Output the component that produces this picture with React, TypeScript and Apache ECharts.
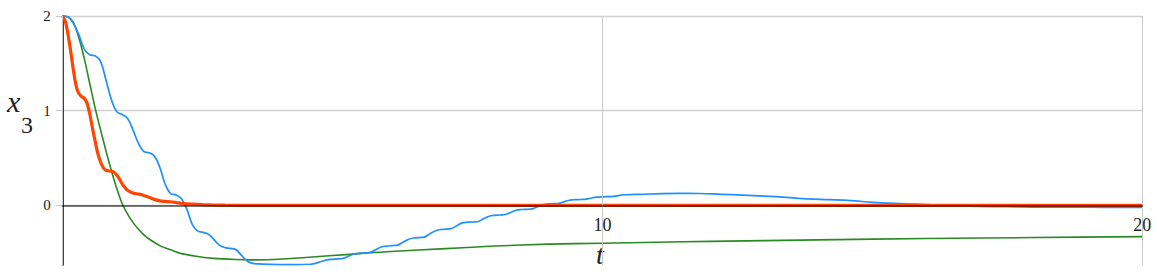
import React, { useEffect, useRef } from "react";
import * as echarts from "echarts";

const xTicks = [0, 10, 20];
const yTicks = [0, 1, 2];
const yMin = -0.63;
const yMax = 2;

const blueT = [0, 0.1, 0.2, 0.3, 0.4, 0.5, 0.6, 0.7, 0.8, 0.9, 1.0, 1.1, 1.2, 1.3, 1.4, 1.5, 1.6, 1.7, 1.8, 1.9, 2.0, 2.1, 2.2, 2.3, 2.4, 2.5, 2.6, 2.7, 2.8, 2.9, 3.0, 3.1, 3.2, 3.3, 3.4, 3.5, 3.7, 4.0, 4.3, 4.6, 4.7, 4.8, 4.9, 5.0, 5.1, 5.2, 5.3, 5.4, 5.5, 5.6, 5.7, 5.8, 5.9, 6.0, 6.1, 6.2, 6.3, 6.4, 6.5, 6.6, 6.7, 6.8, 6.9, 7.0, 7.1, 7.2, 7.3, 7.4, 7.5, 7.6, 7.7, 7.8, 7.9, 8.0, 8.1, 8.2, 8.3, 8.4, 8.5, 8.6, 8.7, 8.8, 8.9, 9.0, 9.1, 9.2, 9.3, 9.4, 9.5, 9.6, 9.7, 9.8, 9.9, 10.0, 10.2, 10.4, 10.6, 10.8, 11.0, 11.4, 11.8, 12.2, 12.6, 13.0, 13.4, 13.8, 14.2, 14.6, 15.0, 15.4, 15.8, 16.2, 16.6, 17.0, 17.5, 18, 19, 20];
const blueV = [2, 1.99, 1.92, 1.8, 1.65, 1.59, 1.58, 1.52, 1.33, 1.12, 0.99, 0.96, 0.92, 0.8, 0.66, 0.57, 0.555, 0.52, 0.4, 0.22, 0.125, 0.11, 0.07, -0.04, -0.2, -0.27, -0.285, -0.305, -0.36, -0.42, -0.445, -0.455, -0.465, -0.52, -0.58, -0.61, -0.62, -0.625, -0.625, -0.622, -0.61, -0.59, -0.575, -0.57, -0.565, -0.56, -0.535, -0.512, -0.505, -0.502, -0.495, -0.47, -0.44, -0.43, -0.425, -0.42, -0.39, -0.36, -0.345, -0.34, -0.335, -0.3, -0.27, -0.255, -0.252, -0.245, -0.215, -0.185, -0.178, -0.176, -0.17, -0.14, -0.115, -0.105, -0.102, -0.097, -0.075, -0.052, -0.044, -0.042, -0.037, -0.015, 0.008, 0.015, 0.018, 0.022, 0.04, 0.056, 0.06, 0.062, 0.066, 0.078, 0.086, 0.09, 0.095, 0.112, 0.115, 0.118, 0.122, 0.126, 0.125, 0.117, 0.108, 0.098, 0.085, 0.068, 0.06, 0.05, 0.032, 0.02, 0.012, 0.003, -0.004, -0.01, -0.015, -0.018, -0.02, -0.022];

const orangeT = [0, 0.05, 0.1, 0.15, 0.2, 0.25, 0.3, 0.35, 0.4, 0.45, 0.5, 0.55, 0.6, 0.65, 0.7, 0.75, 0.8, 0.9, 0.95, 1.0, 1.05, 1.1, 1.15, 1.2, 1.3, 1.4, 1.45, 1.5, 1.6, 1.7, 1.8, 1.9, 2.0, 2.1, 2.2, 2.3, 2.4, 2.6, 2.8, 3.0, 3.5, 20];
const orangeV = [2, 1.94, 1.8, 1.62, 1.42, 1.26, 1.18, 1.15, 1.13, 1.08, 0.97, 0.82, 0.68, 0.55, 0.46, 0.4, 0.37, 0.36, 0.35, 0.32, 0.28, 0.23, 0.19, 0.16, 0.13, 0.12, 0.115, 0.105, 0.085, 0.063, 0.048, 0.042, 0.038, 0.03, 0.021, 0.016, 0.013, 0.008, 0.004, 0.002, 0, 0];

const greenT = [0, 0.1, 0.2, 0.3, 0.4, 0.5, 0.6, 0.7, 0.8, 0.9, 1.0, 1.1, 1.2, 1.3, 1.4, 1.5, 1.6, 1.8, 2.0, 2.2, 2.5, 2.8, 3.2, 3.5, 4.0, 4.5, 5.0, 5.5, 6.0, 7.0, 8.0, 9.0, 10, 11, 12, 14, 16, 18, 20];
const greenV = [2, 1.99, 1.93, 1.77, 1.55, 1.29, 1.03, 0.8, 0.58, 0.37, 0.18, 0.02, -0.09, -0.18, -0.25, -0.31, -0.355, -0.425, -0.47, -0.51, -0.54, -0.56, -0.572, -0.576, -0.57, -0.55, -0.53, -0.51, -0.49, -0.46, -0.43, -0.41, -0.4, -0.39, -0.38, -0.365, -0.35, -0.34, -0.33];

const pairs = (t: number[], v: number[]) => t.map((x, i) => [x, v[i]]);

const W = 1157;
const H = 278;
const G = { left: 62.7, right: 14.7, top: 16, bottom: 13 };

export default function App() {
  const ref = useRef<HTMLDivElement>(null);
  useEffect(() => {
    if (!ref.current) return;
    const chart = echarts.init(ref.current, null, { renderer: "svg" });
    const serif = "Liberation Serif, DejaVu Serif, serif";
    const plotH = H - G.top - G.bottom;
    const zeroOffset = -((0 - yMin) / (yMax - yMin)) * plotH;
    chart.setOption({
      animation: false,
      backgroundColor: "#ffffff",
      grid: { ...G, containLabel: false, outerBoundsMode: "none" },
      xAxis: {
        type: "value",
        min: 0,
        max: 20,
        interval: 10,
        z: 3,
        offset: zeroOffset,
        axisLine: { show: true, onZero: false, lineStyle: { color: "rgba(0,0,0,0.5)", width: 2 } },
        axisTick: { show: false },
        axisLabel: {
          fontFamily: serif,
          fontSize: 18,
          color: "#222",
          margin: 11,
          formatter: (v: number) => (xTicks.indexOf(v) > 0 ? String(v) : ""),
        },
        splitLine: { show: true, lineStyle: { color: "#c8c8c8", width: 1 } },
      },
      yAxis: {
        type: "value",
        min: yMin,
        max: yMax,
        axisLine: { show: true, onZero: false, lineStyle: { color: "#000", width: 1.5 } },
        axisTick: { show: true, customValues: yTicks, length: 7, lineStyle: { color: "#c8c8c8" } },
        axisLabel: { customValues: yTicks, fontFamily: serif, fontSize: 15, color: "#222", margin: 12 },
        splitLine: { show: true, lineStyle: { color: "#d0d0d0", width: 1.3 } },
      },
      graphic: [
        { type: "text", left: 7, top: 86, style: { text: "x", fontFamily: serif, fontStyle: "italic", fontSize: 30, fill: "#222" } },
        { type: "text", left: 21, top: 113, style: { text: "3", fontFamily: serif, fontSize: 24, fill: "#222" } },
        { type: "text", left: 596, top: 240, style: { text: "t", fontFamily: serif, fontStyle: "italic", fontSize: 28, fill: "#222" } },
      ],
      series: [
        {
          type: "line",
          data: pairs(greenT, greenV),
          smooth: 0.3,
          showSymbol: false,
          lineStyle: { color: "#2a8a22", width: 1.6 },
          z: 2,
        },
        {
          type: "line",
          data: pairs(blueT, blueV),
          smooth: 0.4,
          showSymbol: false,
          lineStyle: { color: "#1e90ff", width: 1.7 },
          z: 2,
        },
        {
          type: "line",
          data: pairs(orangeT, orangeV),
          smooth: 0.3,
          showSymbol: false,
          lineStyle: { color: "#ff4500", width: 3.2 },
          z: 2,
        },
      ],
    });
    return () => chart.dispose();
  }, []);
  return (
    <div
      ref={ref}
      style={{ position: "absolute", left: 0, top: 0, width: W, height: H }}
    />
  );
}
